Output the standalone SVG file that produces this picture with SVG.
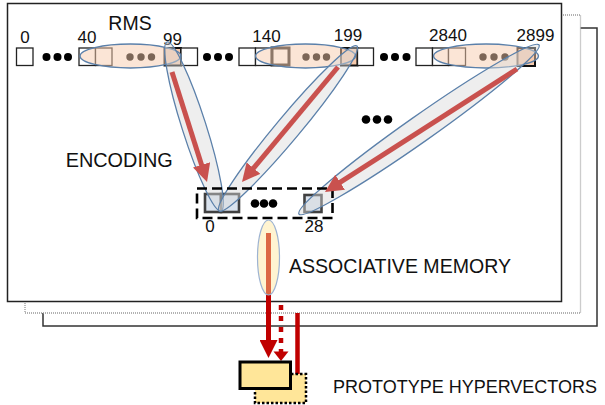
<svg xmlns="http://www.w3.org/2000/svg" width="605" height="405" viewBox="0 0 605 405">
<style>
text{font-family:"Liberation Sans",Arial,sans-serif;fill:#111}
.num{font-size:17px;text-anchor:middle}
.lbl{font-size:19.5px}
.cell{fill:#fff;stroke:#222;stroke-width:1.3}
.hi{fill:#f8cbad;stroke:#111;stroke-width:2}
.dot{fill:#000}
.peach{fill:#f8cbad;fill-opacity:0.5;stroke:#5b80aa;stroke-width:1.3}
.lane{fill:#d9d9d9;fill-opacity:0.45;stroke:#5b80aa;stroke-width:1.3}
.enc{fill:#dae3ee;stroke:#404040;stroke-width:2.6}
.red{stroke:#c9514e;stroke-width:5;fill:none;marker-end:url(#ah)}
.dred{stroke:#c00000;stroke-width:5;fill:none}
</style>
<defs>
<marker id="ah" markerUnits="userSpaceOnUse" markerWidth="18" markerHeight="18" viewBox="0 0 18 18" refX="8" refY="9" orient="auto"><path d="M0,0 L18,9 L0,18 z" fill="#c9514e"/></marker>
<marker id="ahd" markerUnits="userSpaceOnUse" markerWidth="18" markerHeight="18" viewBox="0 0 18 18" refX="8" refY="9" orient="auto"><path d="M0,0 L18,9 L0,18 z" fill="#c00000"/></marker>
</defs>
<g id="pages">
<rect x="43" y="28" width="554" height="298" fill="#fff" stroke="#333" stroke-width="1.5"/>
<rect x="25" y="15" width="555.5" height="298" fill="#fff" stroke="#999" stroke-width="1.3" stroke-dasharray="1 1"/>
<rect x="7.5" y="3.5" width="554" height="298" fill="#fff" stroke="#222" stroke-width="1.5"/>
</g>
<g id="rms">
<text class="lbl" x="130" y="30" text-anchor="middle">RMS</text>
<text class="num" x="25" y="43">0</text>
<text class="num" x="87" y="43">40</text>
<text class="num" x="172.5" y="44.5">99</text>
<text class="num" x="266.5" y="42">140</text>
<text class="num" x="348" y="41">199</text>
<text class="num" x="448" y="41">2840</text>
<text class="num" x="535.5" y="41">2899</text>
<rect class="cell" x="16.5" y="48" width="16.5" height="17.5"/>
<rect class="cell" x="79" y="48" width="16.5" height="17.5"/>
<rect class="cell" x="95.5" y="48" width="16.5" height="17.5"/>
<rect class="hi" x="164.5" y="48" width="16.5" height="17.5"/>
<rect class="cell" x="181" y="48" width="16.5" height="17.5"/>
<rect class="cell" x="239" y="48" width="16.5" height="17.5"/>
<rect class="cell" x="255.5" y="48" width="16" height="17.5"/>
<rect class="cell" x="272" y="48" width="17" height="17" style="stroke-width:3"/>
<rect class="hi" x="341" y="48" width="16.5" height="17.5"/>
<rect class="cell" x="357.5" y="48" width="16" height="17.5"/>
<rect class="cell" x="416" y="48" width="16.5" height="17.5"/>
<rect class="cell" x="432.5" y="48" width="16" height="17.5"/>
<rect class="cell" x="448.5" y="48" width="17" height="17.5"/>
<rect class="hi" x="517.5" y="48" width="17.5" height="18"/>
<circle class="dot" cx="46.5" cy="57" r="4"/><circle class="dot" cx="57.5" cy="57" r="4"/><circle class="dot" cx="68" cy="57" r="4"/>
<circle class="dot" cx="130" cy="57" r="3.7"/><circle class="dot" cx="141" cy="57" r="3.7"/><circle class="dot" cx="151.5" cy="57" r="3.7"/>
<circle class="dot" cx="207" cy="57" r="4"/><circle class="dot" cx="218" cy="57" r="4"/><circle class="dot" cx="229" cy="57" r="4"/>
<circle class="dot" cx="306" cy="57" r="3.7"/><circle class="dot" cx="316.5" cy="57" r="3.7"/><circle class="dot" cx="326.5" cy="57" r="3.7"/>
<circle class="dot" cx="384" cy="57" r="4"/><circle class="dot" cx="395" cy="57" r="4"/><circle class="dot" cx="406.5" cy="57" r="4"/>
<circle class="dot" cx="483" cy="57" r="3.7"/><circle class="dot" cx="494" cy="57" r="3.7"/><circle class="dot" cx="505" cy="57" r="3.7"/>
<ellipse class="peach" cx="130.5" cy="56" rx="50.5" ry="12"/>
<ellipse class="peach" cx="305.5" cy="56" rx="50" ry="12"/>
<ellipse class="peach" cx="486" cy="56" rx="52.5" ry="12"/>
</g>
<g id="middle-dots">
<circle class="dot" cx="366" cy="119.5" r="4.3"/><circle class="dot" cx="377" cy="119.5" r="4.3"/><circle class="dot" cx="388" cy="119.5" r="4.3"/>
</g>
<g id="encoding">
<text class="lbl" x="65.7" y="166.5" textLength="107" lengthAdjust="spacingAndGlyphs">ENCODING</text>
<rect class="enc" x="205" y="194" width="16" height="18"/>
<rect class="enc" x="221" y="194" width="18" height="18"/>
<rect class="enc" x="304.5" y="195" width="17" height="17"/>
<circle class="dot" cx="255" cy="203.5" r="4.3"/><circle class="dot" cx="264" cy="203.5" r="4.3"/><circle class="dot" cx="273" cy="203.5" r="4.3"/>
<text class="num" x="210" y="231.5">0</text>
<text class="num" x="314" y="231.5">28</text>
</g>
<g id="lanes">
<ellipse class="lane" cx="194" cy="126.5" rx="88.7" ry="12" transform="rotate(72.3 194 126.5)"/>
<ellipse class="lane" cx="288" cy="128.5" rx="107.5" ry="12" transform="rotate(129.9 288 128.5)"/>
<ellipse class="lane" cx="419" cy="129.5" rx="146.8" ry="13" transform="rotate(144.85 419 129.5)"/>
</g>
<rect id="enc-frame" x="197" y="188.5" width="135.5" height="29.5" fill="none" stroke="#000" stroke-width="2.6" stroke-dasharray="10 5"/>
<g id="connectors">
<line class="red" x1="172" y1="72" x2="204" y2="172.5"/>
<line class="red" x1="338" y1="67" x2="248.4" y2="174.3"/>
<line class="red" x1="517" y1="69" x2="333.4" y2="186.6"/>
<line class="dred" x1="268.5" y1="233" x2="268.5" y2="348" marker-end="url(#ahd)"/>
<line x1="281" y1="305" x2="281" y2="352" stroke="#c00000" stroke-width="4.5" stroke-dasharray="5 6"/>
<polygon points="273.5,351.5 288.5,351.5 281,361" fill="#c00000"/>
<line x1="297.5" y1="313" x2="297.5" y2="374" stroke="#c00000" stroke-width="4.5"/>
</g>
<g id="assoc">
<ellipse cx="268.5" cy="257.5" rx="11" ry="37.5" fill="#ffe699" fill-opacity="0.45" stroke="#9db3d2" stroke-width="1.2"/>
<text class="lbl" x="289" y="273" textLength="222" lengthAdjust="spacingAndGlyphs">ASSOCIATIVE MEMORY</text>
</g>
<g id="prototypes">
<rect x="255" y="374" width="51" height="29" fill="#ffe699" stroke="#000" stroke-width="2.5" stroke-dasharray="2.5 2"/>
<rect x="240" y="362" width="50.5" height="26.5" fill="#ffe699" stroke="#000" stroke-width="3"/>
<text x="333" y="393" font-size="18" textLength="264" lengthAdjust="spacingAndGlyphs">PROTOTYPE HYPERVECTORS</text>
</g>
</svg>
